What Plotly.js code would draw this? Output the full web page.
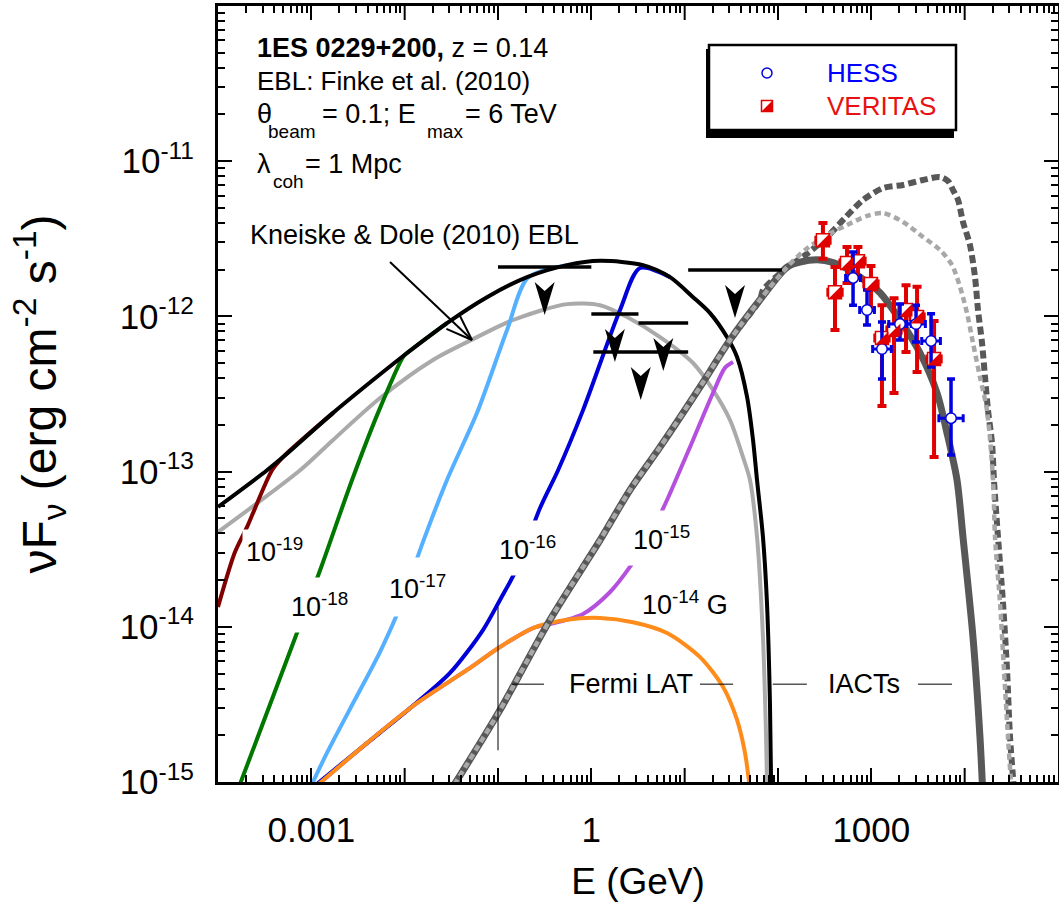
<!DOCTYPE html>
<html><head><meta charset="utf-8">
<script src="https://cdn.plot.ly/plotly-3.0.1.min.js"></script>
<style>html,body{margin:0;padding:0;background:#fff;}#chart{width:1059px;height:919px;}</style>
</head><body><div id="chart"></div>
<script>
// ---------------- DATA (E in GeV, vF_v in erg cm^-2 s^-1) ----------------
// cascade envelope (black)
const blackE = [1e-4, 3.35e-4, 4.97e-4, 1.71e-3, 4.58e-3, 1.06e-2, 2.84e-2, 7.62e-2, 0.205, 0.548, 1.24, 3.58, 6.97, 12.3, 18.7, 28.4, 36.4, 46.6, 54.0, 59.6, 69.0, 76.2, 82.0, 84.5];
const blackF = [5.92e-14, 1.02e-13, 1.24e-13, 2.39e-13, 3.89e-13, 5.81e-13, 9.06e-13, 1.33e-12, 1.79e-12, 2.14e-12, 2.28e-12, 2.14e-12, 1.79e-12, 1.33e-12, 1.05e-12, 7.36e-13, 5.47e-13, 3.03e-13, 1.60e-13, 8.83e-14, 3.79e-14, 1.42e-14, 3.23e-15, 9.0e-16];
// Kneiske & Dole (2010) EBL (light grey)
const kdE = [1e-4, 7.57e-4, 1.71e-3, 5.45e-3, 2.01e-2, 5.40e-2, 0.145, 0.548, 1.24, 2.41, 5.45, 12.3, 20.1, 30.6, 42.2, 50.1, 59.6, 69.0, 74.5, 76.5];
const kdF = [4.08e-14, 1.02e-13, 1.60e-13, 2.98e-13, 5.24e-13, 7.14e-13, 9.48e-13, 1.20e-12, 1.18e-12, 9.91e-13, 7.36e-13, 5.01e-13, 3.36e-13, 2.15e-13, 1.24e-13, 8.83e-14, 3.79e-14, 8.59e-15, 1.95e-15, 9.0e-16];
// B = 1e-19 G
const b19E = [1e-4, 1.52e-4, 2.05e-4, 3.79e-4, 4.97e-4, 1.71e-3];
const b19F = [1.34e-14, 3.03e-14, 4.40e-14, 1.02e-13, 1.24e-13, 2.39e-13];
// B = 1e-18 G
const b18E = [1.70e-4, 7.57e-4, 1.30e-3, 2.73e-3, 5.18e-3, 9.59e-3, 1.06e-2, 2.84e-2];
const b18F = [9.5e-16, 1.03e-14, 2.50e-14, 8.83e-14, 2.39e-13, 5.47e-13, 5.81e-13, 9.06e-13];
// B = 1e-17 G
const b17E = [1.0e-3, 1.47e-3, 2.59e-3, 5.45e-3, 8.91e-3, 1.53e-2, 2.84e-2, 5.96e-2, 0.125, 0.209, 0.548];
const b17F = [9.5e-16, 1.54e-15, 2.95e-15, 6.9e-15, 1.34e-14, 3.37e-14, 8.83e-14, 2.39e-13, 8.17e-13, 1.77e-12, 2.14e-12];
// B = 1e-16 G
const b16E = [1.10e-3, 2.59e-3, 5.45e-3, 1.06e-2, 3.06e-2, 6.90e-2, 0.105, 0.160, 0.282, 0.440, 0.815, 2.03, 3.32, 6.97];
const b16F = [9.5e-16, 1.45e-15, 2.08e-15, 2.88e-15, 5.04e-15, 9.53e-15, 1.49e-14, 2.39e-14, 5.82e-14, 1.02e-13, 2.49e-13, 1.10e-12, 2.05e-12, 1.79e-12];
// B = 1e-15 G
const b15E = [1.15e-3, 3.94e-3, 1.36e-2, 4.66e-2, 0.105, 0.237, 0.361, 0.815, 1.58, 2.59, 4.26, 6.62, 8.91, 12.3, 20.1, 27.0, 33.0];
const b15F = [9.5e-16, 1.78e-15, 3.23e-15, 5.27e-15, 7.41e-15, 9.82e-15, 1.04e-14, 1.21e-14, 1.67e-14, 2.43e-14, 3.91e-14, 6.76e-14, 1.02e-13, 1.60e-13, 3.21e-13, 4.66e-13, 5.08e-13];
// B = 1e-14 G
const b14E = [1.15e-3, 3.94e-3, 1.36e-2, 4.66e-2, 0.105, 0.237, 0.548, 1.24, 2.79, 6.47, 14.6, 25.8, 36.4, 44.3, 49.5];
const b14F = [9.5e-16, 1.78e-15, 3.23e-15, 5.27e-15, 7.41e-15, 9.82e-15, 1.11e-14, 1.14e-14, 1.07e-14, 9.12e-15, 6.38e-15, 4.09e-15, 2.51e-15, 1.54e-15, 9.5e-16];
// EBL-absorbed source spectrum (dark grey solid)
const absE = [3.4e-2, 0.105, 0.361, 1.24, 2.59, 5.45, 14.6, 30.6, 64.1, 125, 172, 282, 461, 757, 1239, 2028, 3327, 5058, 6471, 8279, 9594, 12274, 14588, 15500];
const absF = [9.6e-16, 2.91e-15, 1.11e-14, 3.62e-14, 7.60e-14, 1.44e-13, 3.51e-13, 7.05e-13, 1.28e-12, 2.08e-12, 2.24e-12, 2.31e-12, 2.14e-12, 1.79e-12, 1.42e-12, 9.48e-13, 5.81e-13, 3.21e-13, 1.77e-13, 8.83e-14, 3.79e-14, 8.59e-15, 1.95e-15, 9.5e-16];
// intrinsic spectrum (dark grey dashed)
const intE = [3.4e-2, 0.105, 0.361, 1.24, 2.59, 5.45, 14.6, 30.6, 64.1, 69.0, 128, 209, 344, 522, 815, 1334, 2188, 3581, 5445, 6637, 7499, 8492, 9594, 11402, 12912, 13900, 15346, 16520, 17783, 19634, 20606, 22751, 25763, 28445, 30620, 33500];
const intF = [9.6e-16, 2.91e-15, 1.11e-14, 3.62e-14, 7.60e-14, 1.44e-13, 3.51e-13, 7.05e-13, 1.28e-12, 1.48e-12, 2.08e-12, 2.56e-12, 3.30e-12, 4.31e-12, 5.62e-12, 6.71e-12, 7.03e-12, 7.57e-12, 7.91e-12, 7.45e-12, 6.52e-12, 5.62e-12, 4.06e-12, 2.88e-12, 1.79e-12, 1.10e-12, 6.75e-13, 4.07e-13, 2.49e-13, 1.53e-13, 8.83e-14, 3.79e-14, 1.42e-14, 5.27e-15, 1.95e-15, 9.5e-16];
// intermediate spectrum (light grey dashed)
const midE = [3.4e-2, 0.105, 0.361, 1.24, 2.59, 5.45, 14.6, 30.6, 64.1, 125, 195, 335, 548, 899, 1334, 2188, 3581, 5445, 7328, 8913, 10593, 12274, 14588, 17338, 20137, 21135, 23933, 26363, 29107, 31500];
const midF = [9.6e-16, 2.91e-15, 1.11e-14, 3.62e-14, 7.60e-14, 1.44e-13, 3.51e-13, 7.05e-13, 1.28e-12, 2.08e-12, 2.68e-12, 3.34e-12, 3.88e-12, 4.44e-12, 4.63e-12, 4.06e-12, 3.25e-12, 2.68e-12, 2.14e-12, 1.55e-12, 1.05e-12, 6.75e-13, 4.07e-13, 2.49e-13, 8.83e-14, 3.79e-14, 1.42e-14, 5.27e-15, 1.95e-15, 9.5e-16];

// HESS
const hessE   = [637, 899, 1300, 2028, 3013, 4365, 7143];
const hessElo = [530, 750, 1033, 1538, 2393, 3467, 5292];
const hessEhi = [764, 1079, 1637, 2674, 3793, 5495, 9641];
const hessF   = [1.77e-12, 1.10e-12, 6.17e-13, 8.93e-13, 8.93e-13, 6.95e-13, 2.21e-13];
const hessFlo = [1.18e-12, 8.81e-13, 3.95e-13, 7.05e-13, 6.84e-13, 4.72e-13, 1.28e-13];
const hessFhi = [2.60e-12, 1.48e-12, 9.20e-13, 1.20e-12, 1.18e-12, 1.04e-12, 3.95e-13];
// VERITAS
const verE   = [303, 408, 549, 719, 991, 1300, 1750, 2353, 3090, 4700];
const verElo = [253, 340, 458, 599, 826, 1083, 1458, 1961, 2575, 3917];
const verEhi = [364, 490, 659, 863, 1189, 1560, 2100, 2824, 3708, 5640];
const verF   = [3.10e-12, 1.43e-12, 2.21e-12, 2.27e-12, 1.62e-12, 7.26e-13, 8.17e-13, 1.10e-12, 9.91e-13, 5.32e-13];
const verFlo = [2.35e-12, 8.17e-13, 1.64e-12, 1.77e-12, 1.10e-12, 2.65e-13, 3.21e-13, 5.90e-13, 4.38e-13, 1.24e-13];
const verFhi = [4.00e-12, 2.08e-12, 2.80e-12, 2.80e-12, 2.11e-12, 1.18e-12, 1.31e-12, 1.59e-12, 1.55e-12, 9.33e-13];
// Fermi LAT upper limits
const ulElo = [0.1, 1.0, 3.2, 1.05, 10.9];
const ulEhi = [1.0, 3.2, 10.9, 10.9, 110];
const ulF   = [2.08e-12, 1.035e-12, 9.06e-13, 5.90e-13, 1.99e-12];
// instrument band markers
const lat_E = 0.1, bandYlo = 1.6e-15, bandYhi = 1.34e-14, bandY = 4.27e-15;
const bandDashLo = [0.141, 14.6, 88, 3162];
const bandDashHi = [0.311, 33, 204, 7326];
// axis ticks
const xTickVals = [1e-3, 1, 1e3];
const xTickText = ['0.001', '1', '1000'];
const xDecadeTicks = [1e-2, 1e-1, 10, 100, 1e4];
const yTickVals = [1e-15, 1e-14, 1e-13, 1e-12, 1e-11];
const yTickText = ['10<sup>-15</sup>', '10<sup>-14</sup>', '10<sup>-13</sup>', '10<sup>-12</sup>', '10<sup>-11</sup>'];

// ---------------- STYLE / LAYOUT ----------------
const FF = 'Liberation Sans, Arial, Helvetica, sans-serif';
const L = 218, T = 6, PW = 840, PH = 776;
const px = X => (X - L) / PW;
const py = Y => 1 - (Y - T) / PH;
const RED = '#e00000', BLUE = '#0000e0';

function curve(x, y, color, width, dash) {
  return {x, y, type: 'scatter', mode: 'lines', hoverinfo: 'skip', showlegend: false,
          line: {color, width, dash: dash || 'solid', shape: 'spline', smoothing: 0.8}};
}
function diff(a, b) { return a.map((v, i) => v - b[i]); }

const ulX = [], ulY = [];
ulElo.forEach((lo, i) => { ulX.push(lo, ulEhi[i], null); ulY.push(ulF[i], ulF[i], null); });

const traces = [
  curve(kdE, kdF, '#aaaaaa', 4),
  curve(b19E, b19F, '#800000', 4),
  curve(b18E, b18F, '#007800', 4),
  curve(b17E, b17F, '#55b0ff', 4),
  curve(b15E, b15F, '#b550de', 4),
  curve(b16E, b16F, '#0000d8', 4),
  curve(b14E, b14F, '#ff8c1a', 4),
  curve(blackE, blackF, '#000000', 4),
  curve(absE, absF, '#585858', 7),
  curve(intE, intF, '#585858', 6, '8px,4px'),
  curve(midE, midF, '#a8a8a8', 4.5, '6px,4px'),
  {x: ulX, y: ulY, type: 'scatter', mode: 'lines', hoverinfo: 'skip', showlegend: false,
   line: {color: 'black', width: 3.5}},
  {x: verE, y: verF, type: 'scatter', mode: 'markers', name: 'VERITAS', showlegend: false,
   marker: {symbol: 'square', size: 13, color: 'white', line: {color: RED, width: 1.5}},
   error_y: {type: 'data', symmetric: false, array: diff(verFhi, verF), arrayminus: diff(verF, verFlo), color: RED, thickness: 4, width: 4.5},
   error_x: {type: 'data', symmetric: false, array: diff(verEhi, verE), arrayminus: diff(verE, verElo), color: RED, thickness: 2.5, width: 4.5}},
  {x: hessE, y: hessF, type: 'scatter', mode: 'markers', name: 'HESS', showlegend: false,
   marker: {symbol: 'circle', size: 10.5, color: 'white', line: {color: BLUE, width: 1.5}},
   error_y: {type: 'data', symmetric: false, array: diff(hessFhi, hessF), arrayminus: diff(hessF, hessFlo), color: BLUE, thickness: 3.5, width: 4},
   error_x: {type: 'data', symmetric: false, array: diff(hessEhi, hessE), arrayminus: diff(hessE, hessElo), color: BLUE, thickness: 3, width: 4}}
];

// shapes
const shapes = [];
// unlabelled decade ticks (long), bottom and top
xDecadeTicks.forEach(v => {
  shapes.push({type: 'line', xref: 'x', yref: 'paper', ysizemode: 'pixel', yanchor: 0, x0: v, x1: v, y0: 0, y1: 14, line: {color: 'black', width: 2}});
  shapes.push({type: 'line', xref: 'x', yref: 'paper', ysizemode: 'pixel', yanchor: 1, x0: v, x1: v, y0: 0, y1: -14, line: {color: 'black', width: 2}});
});
// Fermi / IACT band markers
shapes.push({type: 'line', xref: 'x', yref: 'y', x0: lat_E, x1: lat_E, y0: bandYlo, y1: bandYhi, line: {color: 'black', width: 1}});
bandDashLo.forEach((lo, i) => shapes.push({type: 'line', xref: 'x', yref: 'y', x0: lo, x1: bandDashHi[i], y0: bandY, y1: bandY, line: {color: 'black', width: 1}}));
// upper-limit arrows
ulF.forEach((f, i) => {
  const ec = Math.sqrt(ulElo[i] * ulEhi[i]);
  shapes.push({type: 'line', xref: 'x', yref: 'y', xsizemode: 'pixel', ysizemode: 'pixel', xanchor: ec, yanchor: f,
               x0: 0, x1: 0, y0: 0, y1: -36, line: {color: 'black', width: 3}});
  shapes.push({type: 'path', xref: 'x', yref: 'y', xsizemode: 'pixel', ysizemode: 'pixel', xanchor: ec, yanchor: f,
               path: 'M0,-48 L-10,-15 L0,-24 L10,-15 Z', fillcolor: 'black', line: {width: 0}});
});
// VERITAS half-filled squares
verE.forEach((e, i) => shapes.push({type: 'path', xref: 'x', yref: 'y', xsizemode: 'pixel', ysizemode: 'pixel', xanchor: e, yanchor: verF[i],
  path: 'M-6.5,-6.5 L6.5,-6.5 L6.5,6.5 Z', fillcolor: RED, line: {width: 0}}));
// Kneiske & Dole arrow
const tipX = 472, tipY = 340;
shapes.push({type: 'line', xref: 'paper', yref: 'paper', x0: px(390), y0: py(262), x1: px(tipX), y1: py(tipY), line: {color: 'black', width: 2}});
shapes.push({type: 'line', xref: 'paper', yref: 'paper', x0: px(tipX - 12.5), y0: py(tipY - 25), x1: px(tipX), y1: py(tipY), line: {color: 'black', width: 2}});
shapes.push({type: 'line', xref: 'paper', yref: 'paper', x0: px(tipX - 25.6), y0: py(tipY - 11.2), x1: px(tipX), y1: py(tipY), line: {color: 'black', width: 2}});
// legend box with shadow
shapes.push({type: 'rect', xref: 'paper', yref: 'paper', x0: px(706), x1: px(954), y0: py(49), y1: py(138), fillcolor: 'black', line: {width: 0}});
shapes.push({type: 'rect', xref: 'paper', yref: 'paper', x0: px(709), x1: px(956), y0: py(45), y1: py(130), fillcolor: 'white', line: {color: 'black', width: 2.5}});
shapes.push({type: 'circle', xref: 'paper', yref: 'paper', xsizemode: 'pixel', ysizemode: 'pixel', xanchor: px(767), yanchor: py(73),
             x0: -5, x1: 5, y0: -5, y1: 5, fillcolor: 'white', line: {color: BLUE, width: 1.5}});
shapes.push({type: 'rect', xref: 'paper', yref: 'paper', xsizemode: 'pixel', ysizemode: 'pixel', xanchor: px(767), yanchor: py(106),
             x0: -5.5, x1: 5.5, y0: -5.5, y1: 5.5, fillcolor: 'white', line: {color: RED, width: 1.5}});
shapes.push({type: 'path', xref: 'paper', yref: 'paper', xsizemode: 'pixel', ysizemode: 'pixel', xanchor: px(767), yanchor: py(106),
             path: 'M-5.5,-5.5 L5.5,-5.5 L5.5,5.5 Z', fillcolor: RED, line: {width: 0}});

// annotations
function txt(text, X, Y, size, extra) {
  return Object.assign({text, xref: 'paper', yref: 'paper', x: px(X), y: py(Y), xanchor: 'left', yanchor: 'middle',
                        showarrow: false, font: {family: FF, size, color: 'black'}}, extra || {});
}
function lab(text, X, Y, pad) {
  return txt(text, X - pad, Y, 27, {bgcolor: 'white', borderpad: pad});
}
const annotations = [
  txt('<b>1ES 0229+200,</b> z = 0.14', 255, 48, 27),
  txt('EBL: Finke et al. (2010)', 255, 81, 26),
  txt('θ', 255, 114, 27),
  txt('beam', 266, 131, 19),
  txt('= 0.1; E', 320, 114, 27),
  txt('max', 425, 131, 19),
  txt('= 6 TeV', 463, 114, 27),
  txt('λ', 255, 164, 27),
  txt('coh', 271, 182, 19),
  txt('= 1 Mpc', 303, 164, 27),
  txt('Kneiske &amp; Dole (2010) EBL', 248, 235, 27),
  lab('10<sup>-19</sup>', 245, 550, 3),
  lab('10<sup>-18</sup>', 290, 605, 10),
  lab('10<sup>-17</sup>', 388, 587, 12),
  lab('10<sup>-16</sup>', 498, 548, 10),
  lab('10<sup>-15</sup>', 632, 538, 10),
  txt('10<sup>-14</sup> G', 640, 603, 27),
  txt('Fermi LAT', 631, 684, 27, {xanchor: 'center'}),
  txt('IACTs', 864, 684, 27, {xanchor: 'center'}),
  txt('HESS', 825, 73, 26, {font: {family: FF, size: 26, color: '#0000ff'}}),
  txt('VERITAS', 825, 106, 26, {font: {family: FF, size: 26, color: '#e81010'}})
];

const axisCommon = {
  type: 'log', showline: true, linecolor: 'black', linewidth: 3, mirror: 'allticks',
  ticks: 'inside', ticklen: 14, tickwidth: 2, tickcolor: 'black', showgrid: false, zeroline: false,
  tickmode: 'array', tickfont: {family: FF, size: 35, color: 'black'}, automargin: false
};
const xMinor = [], yMinor = [];
for (let d = -4; d < 5; d++) for (let k = 2; k <= 9; k++) xMinor.push(k * Math.pow(10, d));
for (let d = -15; d < -10; d++) for (let k = 2; k <= 9; k++) yMinor.push(k * Math.pow(10, d));

const layout = {
  width: 1059, height: 919, margin: {l: 218, r: 1, t: 6, b: 137},
  paper_bgcolor: 'white', plot_bgcolor: 'white', showlegend: false,
  font: {family: FF, color: 'black'},
  xaxis: Object.assign({}, axisCommon, {range: [-4, 5], tickvals: xTickVals, ticktext: xTickText, ticklabelstandoff: 15,
    minor: {tickmode: 'array', tickvals: xMinor, ticks: 'inside', ticklen: 7, tickwidth: 2, tickcolor: 'black', showgrid: false},
    title: {text: 'E (GeV)', font: {family: FF, size: 37, color: 'black'}, standoff: 21}}),
  yaxis: Object.assign({}, axisCommon, {range: [-15, -10], tickvals: yTickVals, ticktext: yTickText, ticklabelstandoff: 14,
    minor: {tickmode: 'array', tickvals: yMinor, ticks: 'inside', ticklen: 7, tickwidth: 2, tickcolor: 'black', showgrid: false},
    title: {text: 'νF<sub>ν</sub> (erg cm<sup>-2</sup> s<sup>-1</sup>)', font: {family: FF, size: 48, color: 'black'}, standoff: 48}}),
  shapes, annotations
};

Plotly.newPlot('chart', traces, layout, {staticPlot: true, displayModeBar: false});
</script></body></html>
